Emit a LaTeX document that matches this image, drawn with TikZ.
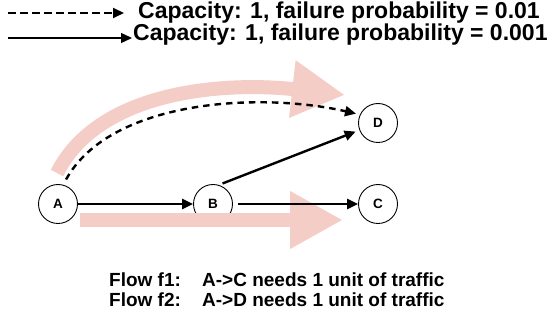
\documentclass[tikz,border=0pt]{standalone}
\usepackage{fontspec}
\setmainfont{Liberation Sans}
\usetikzlibrary{arrows.meta}
\definecolor{flowpink}{RGB}{245,205,199}

\begin{document}
\begin{tikzpicture}[x=1pt,y=-1pt,
station/.style={circle,draw,line width=0.9pt,fill=white,minimum size=39pt,inner sep=0pt,
  font=\fontsize{13.5}{13.5}\selectfont\bfseries},
link/.style={line width=2.4pt,-{Triangle[length=11pt 0 0,width=10pt 0 0]}},
flaky/.style={link,dash pattern=on 6.5pt off 5pt},
flow/.style={draw=flowpink,line width=14pt,-{Triangle[length=53pt 0 0,width=54pt 0 0]}},
legend/.style={anchor=base west,inner sep=0pt,font=\fontsize{23}{26}\selectfont\bfseries},
note/.style={anchor=base west,inner sep=0pt,font=\fontsize{19}{22}\selectfont\bfseries}]
\useasboundingbox (0,0) rectangle (555,323);

% legend
\coordinate (dashstart) at (8,13);
\coordinate (dashend) at (124,13);
\coordinate (solidstart) at (8,38);
\coordinate (solidend) at (132,38);
\draw[flaky,line width=2pt,dash pattern=on 7.5pt off 4.5pt] (dashstart) -- (dashend);
\draw[link,line width=1.4pt] (solidstart) -- (solidend);
\node[legend] (dashtext) at (138,19) {Capacity: 1, failure probability = 0.01};
\node[legend] (solidtext) at (133,41) {Capacity: 1, failure probability = 0.001};

% network
\node[station] (A) at (58,204) {A};
\node[station] (B) at (213,204) {B};
\node[station] (C) at (378,204) {C};
\node[station] (D) at (378,123) {D};

% flows
\coordinate (f2start) at (57,173);
\coordinate (f2end) at (345,95);
\coordinate (f1start) at (80,220);
\coordinate (f1end) at (343,220);
\draw[flow] (f2start) .. controls (100,88) and (230,82) .. (f2end);
\draw[flow] (f1start) -- (f1end);

% links
\draw[link] (A) -- (B);
\draw[link,shorten <=5pt] (B) -- (C);
\draw[link,shorten <=4pt,shorten >=4pt] (B.73) -- (D.201);
\draw[flaky,shorten <=6pt,shorten >=4pt] (A.75) .. controls +(47,-85) and +(-100,-23) .. (D.155);

% flow demands
\node[note] (f1name) at (109,287) {Flow f1:};
\node[note] (f1text) at (202,287) {A->C needs 1 unit of traffic};
\node[note] (f2name) at (109,307) {Flow f2:};
\node[note] (f2text) at (202,307) {A->D needs 1 unit of traffic};
\end{tikzpicture}
\end{document}
